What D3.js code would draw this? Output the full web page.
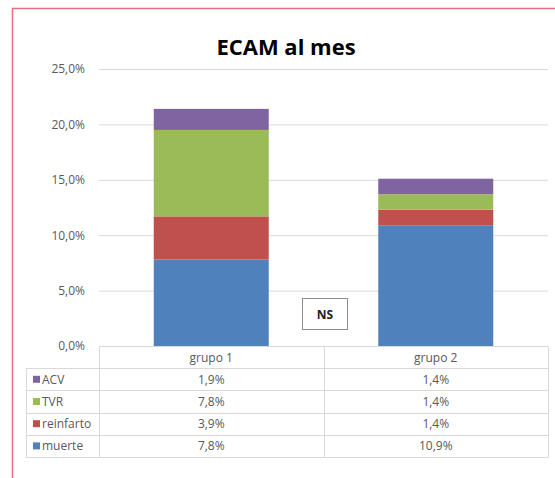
<!DOCTYPE html>
<html><head><meta charset="utf-8">
<script src="https://cdn.jsdelivr.net/npm/d3@7"></script>
<style>body{margin:0;background:#fff;}svg{display:block;}</style>
</head><body>
<script>
const categories = ["grupo 1", "grupo 2"];
const seriesNames = ["muerte", "reinfarto", "TVR", "ACV"];
const muerte = [7.8, 10.9];
const reinfarto = [3.9, 1.4];
const TVR = [7.8, 1.4];
const ACV = [1.9, 1.4];
const yTicks = [0, 5, 10, 15, 20, 25];
const colors = ["#4F81BD", "#C0504D", "#9BBB59", "#8064A2"];

const W = 555, H = 478;
const svg = d3.select("body").append("svg").attr("width", W).attr("height", H);
const font = "'Open Sans', 'Liberation Sans', sans-serif";

// outer red border (left/top)
svg.append("rect").attr("x", 12.5).attr("y", 8.5).attr("width", 560).attr("height", 490)
  .attr("fill", "none").attr("stroke", "#E8717F").attr("stroke-width", 1.5);

const plotL = 99, plotR = 548, plotT = 69, plotB = 346;
const x = d3.scaleBand().domain(categories).range([plotL, plotR]).paddingInner(0).paddingOuter(0);
const y = d3.scaleLinear().domain([0, 25]).range([plotB, plotT]);

// gridlines
svg.append("g").selectAll("line").data(yTicks).join("line")
  .attr("x1", plotL).attr("x2", plotR)
  .attr("y1", d => y(d) + 0.5).attr("y2", d => y(d) + 0.5)
  .attr("stroke", "#d9d9d9").attr("stroke-width", 1);

// axis labels
const yAxis = d3.axisLeft(y).tickValues(yTicks).tickSize(0).tickPadding(0)
  .tickFormat(d => d3.format(".1f")(d).replace(".", ",") + "%");
const gy = svg.append("g").attr("transform", `translate(85,0)`).call(yAxis);
gy.select(".domain").remove();
gy.selectAll("text").attr("font-family", font).attr("font-size", 12).attr("fill", "#595959");

// stacked bars
const data = categories.map((c, i) => ({cat: c, muerte: muerte[i], reinfarto: reinfarto[i], TVR: TVR[i], ACV: ACV[i]}));
const stack = d3.stack().keys(seriesNames)(data);
const barW = 115;
svg.append("g").selectAll("g").data(stack).join("g")
  .attr("fill", (d, i) => colors[i])
  .selectAll("rect").data(d => d).join("rect")
  .attr("x", d => x(d.data.cat) + x.bandwidth() / 2 - barW / 2)
  .attr("width", barW)
  .attr("y", d => y(d[1]))
  .attr("height", d => y(d[0]) - y(d[1]));

// title
svg.append("text").attr("x", 286).attr("y", 55).attr("text-anchor", "middle")
  .attr("font-family", font).attr("font-size", 22).attr("font-weight", "bold").attr("fill", "#000")
  .text("ECAM al mes");

// NS box
svg.append("rect").attr("x", 302.5).attr("y", 298.5).attr("width", 45).attr("height", 31)
  .attr("fill", "#fff").attr("stroke", "#8c8c8c").attr("stroke-width", 1);
svg.append("text").attr("x", 325).attr("y", 318.5).attr("text-anchor", "middle")
  .attr("font-family", font).attr("font-size", 12).attr("font-weight", "bold").attr("fill", "#222")
  .text("NS");

// data table
const tableL = 26, rowH = 22.2, headT = plotB;
const grid = svg.append("g").attr("stroke", "#d9d9d9").attr("stroke-width", 1);
const nRows = 5;
const rowY = d3.range(nRows + 1).map(i => headT + i * rowH);
rowY.forEach((ry, i) => {
  grid.append("line").attr("x1", i === 0 ? plotL : tableL).attr("x2", plotR)
    .attr("y1", Math.round(ry) + 0.5).attr("y2", Math.round(ry) + 0.5);
});
grid.append("line").attr("x1", tableL + 0.5).attr("x2", tableL + 0.5).attr("y1", Math.round(rowY[1]) + 0.5).attr("y2", Math.round(rowY[5]) + 0.5);
[plotL, x(categories[1]), plotR].forEach(vx => {
  grid.append("line").attr("x1", Math.round(vx) + 0.5).attr("x2", Math.round(vx) + 0.5)
    .attr("y1", headT + 0.5).attr("y2", Math.round(rowY[5]) + 0.5);
});

// header
svg.append("g").selectAll("text").data(categories).join("text")
  .attr("x", d => x(d) + x.bandwidth() / 2).attr("y", headT + rowH / 2 + 4.5)
  .attr("text-anchor", "middle").attr("font-family", font).attr("font-size", 12).attr("fill", "#595959")
  .text(d => d);

const tableRows = [
  {name: "ACV", vals: ACV, color: colors[3]},
  {name: "TVR", vals: TVR, color: colors[2]},
  {name: "reinfarto", vals: reinfarto, color: colors[1]},
  {name: "muerte", vals: muerte, color: colors[0]}
];
const fmt = v => d3.format(".1f")(v).replace(".", ",") + "%";
tableRows.forEach((r, i) => {
  const cy = headT + (i + 1) * rowH + rowH / 2;
  svg.append("rect").attr("x", 33).attr("y", cy - 3.5).attr("width", 7).attr("height", 7).attr("fill", r.color);
  svg.append("text").attr("x", 42).attr("y", cy + 4.5).attr("font-family", font).attr("font-size", 12)
    .attr("fill", "#595959").text(r.name);
  categories.forEach((c, j) => {
    svg.append("text").attr("x", x(c) + x.bandwidth() / 2).attr("y", cy + 4.5)
      .attr("text-anchor", "middle").attr("font-family", font).attr("font-size", 12).attr("fill", "#595959")
      .text(fmt(r.vals[j]));
  });
});
</script>
</body></html>
